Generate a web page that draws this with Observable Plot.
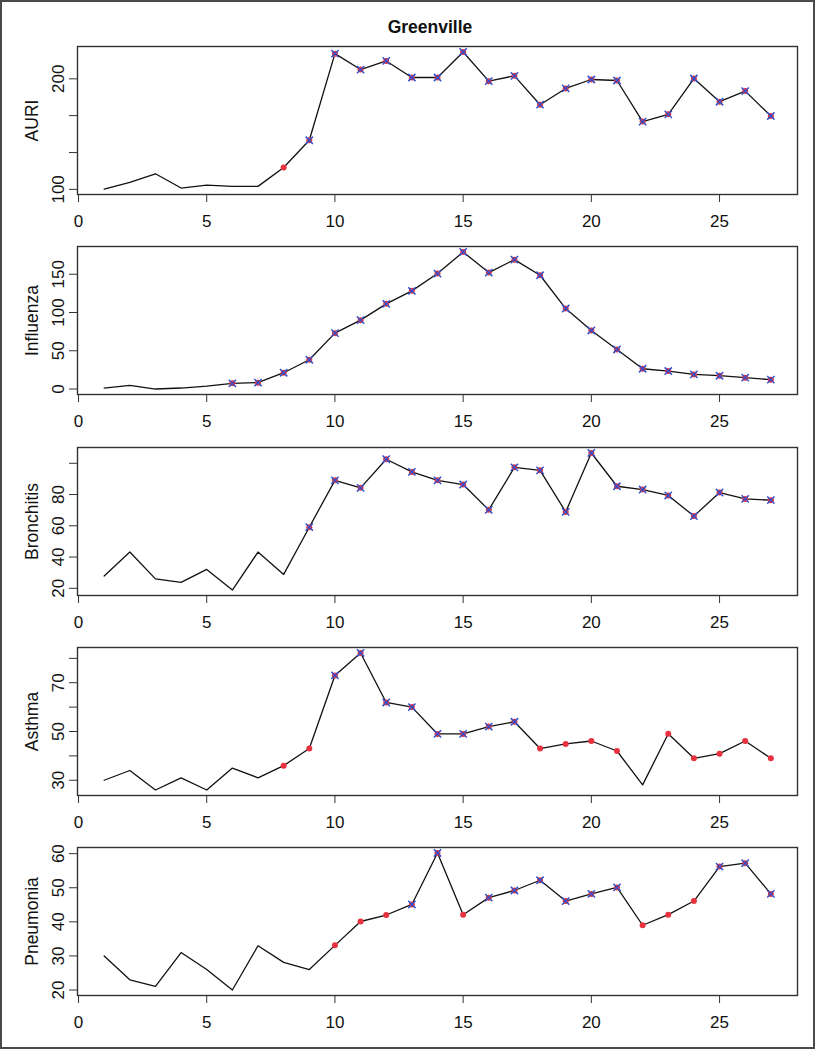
<!DOCTYPE html>
<html>
<head>
<meta charset="utf-8">
<script src="https://cdn.jsdelivr.net/npm/d3@7"></script>
<script src="https://cdn.jsdelivr.net/npm/@observablehq/plot@0.6"></script>
<style>
  body { margin: 0; background: #fff; }
  #fig { position: relative; width: 816px; height: 1050px; background: #fff;
         font-family: "Liberation Sans", Arial, Helvetica, sans-serif; color: #111; }
  #frame { position: absolute; left: 0; top: 0; width: 815px; height: 1049px;
           box-sizing: border-box; border: 2px solid #4a4a4a; }
  #title { position: absolute; left: 0; top: 17px; width: 860px; text-align: center;
           font-weight: bold; font-size: 17.5px; line-height: 20px; }
  .panel { position: absolute; left: 0; }
</style>
</head>
<body>
<div id="fig">
  <div id="frame"></div>
  <div id="title">Greenville</div>
</div>
<script>
// ---- data ----
const weeks = [1,2,3,4,5,6,7,8,9,10,11,12,13,14,15,16,17,18,19,20,21,22,23,24,25,26,27];
const xTicks = [0, 5, 10, 15, 20, 25];

const auri = [100.3,106.3,114.1,101.2,103.9,102.7,102.7,119.8,144.4,222.8,208.4,216.2,201.2,201.2,224.3,197.9,202.7,176.6,191.3,199.4,198.5,161.3,167.9,200.3,179.3,188.9,166.4];
const auriMarks = ["n","n","n","n","n","n","n","o","x","x","x","x","x","x","x","x","x","x","x","x","x","x","x","x","x","x","x"];
const auriTicks = [100, 133.3, 166.7, 200];
const auriLabels = [100, 200];

const influenza = [1.3,4.8,0,1.3,3.9,7.4,8.3,21.3,38.3,73,90,111.3,128.3,150.9,179.1,152.2,169.1,148.7,105.2,76.5,51.7,26.5,23.5,19.1,17.4,14.8,12.2];
const influenzaMarks = ["n","n","n","n","n","x","x","x","x","x","x","x","x","x","x","x","x","x","x","x","x","x","x","x","x","x","x"];
const influenzaTicks = [0, 50, 100, 150];
const influenzaLabels = [0, 50, 100, 150];

const bronchitis = [27.9,43.2,26,23.8,32.1,18.9,43.2,28.9,59.1,89.1,84.3,102.6,94.5,89.1,86.4,70.2,97.4,95.5,68.9,106.6,85.3,83.2,79.4,66.2,81.3,77.2,76.4];
const bronchitisMarks = ["n","n","n","n","n","n","n","n","x","x","x","x","x","x","x","x","x","x","x","x","x","x","x","x","x","x","x"];
const bronchitisTicks = [20, 40, 60, 80, 100];
const bronchitisLabels = [20, 40, 60, 80];

const asthma = [30,34,26,31,26,35,31,36,43,73,82.2,61.9,60,49,49,52,54,43,44.9,46.1,42,28.1,49.1,39,40.9,46.1,39];
const asthmaMarks = ["n","n","n","n","n","n","n","o","o","x","x","x","x","x","x","x","x","o","o","o","o","n","o","o","o","o","o"];
const asthmaTicks = [30, 40, 50, 60, 70, 80];
const asthmaLabels = [30, 50, 70];

const pneumonia = [30,23,21.1,31,26,20,33,28.1,26,33.1,40.1,42,45.1,60.2,42.1,47.1,49.2,52.2,46.1,48.2,50.1,39,42.1,46.1,56.2,57.2,48.2];
const pneumoniaMarks = ["n","n","n","n","n","n","n","n","n","o","o","o","x","x","o","x","x","x","x","x","x","o","o","o","x","x","x"];
const pneumoniaTicks = [20, 30, 40, 50, 60];
const pneumoniaLabels = [20, 30, 40, 50, 60];

const panels = [
  {name: "AURI", values: auri, marks: auriMarks, ticks: auriTicks, labels: auriLabels, top: 46},
  {name: "Influenza", values: influenza, marks: influenzaMarks, ticks: influenzaTicks, labels: influenzaLabels, top: 246},
  {name: "Bronchitis", values: bronchitis, marks: bronchitisMarks, ticks: bronchitisTicks, labels: bronchitisLabels, top: 446.5},
  {name: "Asthma", values: asthma, marks: asthmaMarks, ticks: asthmaTicks, labels: asthmaLabels, top: 646.7},
  {name: "Pneumonia", values: pneumonia, marks: pneumoniaMarks, ticks: pneumoniaTicks, labels: pneumoniaLabels, top: 847}
];

const FONT = '"Liberation Sans", Arial, Helvetica, sans-serif';
const fig = document.getElementById("fig");

for (const p of panels) {
  const data = weeks.map((w, i) => ({week: w, value: p.values[i], mark: p.marks[i]}));
  const [lo, hi] = d3.extent(p.values);
  const pad = (hi - lo) * 0.04;
  const chart = Plot.plot({
    width: 816, height: 200,
    marginLeft: 77, marginRight: 19, marginTop: 10, marginBottom: 42,
    style: {fontFamily: FONT, fontSize: "17px", color: "#111", background: "transparent", overflow: "visible"},
    x: {domain: [-0.04, 28.04]},
    y: {domain: [lo - pad, hi + pad]},
    marks: [
      Plot.frame({stroke: "#333", strokeWidth: 1.4}),
      Plot.axisX({ticks: xTicks, tickSize: 8, tickPadding: 12, tickFormat: d => String(d), fontSize: 17, label: null, stroke: "#333"}),
      Plot.axisY({ticks: p.ticks, tickSize: 8, tickPadding: 6, tickRotate: -90, fontSize: 17, label: null, stroke: "#333",
                  tickFormat: d => p.labels.includes(d) ? String(d) : ""}),
      Plot.text([p.name], {frameAnchor: "left", textAnchor: "middle", lineAnchor: "middle", dx: -45, rotate: -90, fontSize: 17.5, fill: "#111"}),
      Plot.line(data, {x: "week", y: "value", stroke: "#111", strokeWidth: 1.3}),
      Plot.dot(data.filter(d => d.mark !== "n"), {x: "week", y: "value", r: 3, fill: "#e8333f", stroke: "none"}),
      Plot.dot(data.filter(d => d.mark === "x"), {x: "week", y: "value", r: 3.4, symbol: "times", stroke: "#3550c8", strokeWidth: 1.5})
    ]
  });
  chart.classList.add("panel");
  chart.style.top = (p.top - 10) + "px";
  fig.appendChild(chart);
}
</script>
</body>
</html>
